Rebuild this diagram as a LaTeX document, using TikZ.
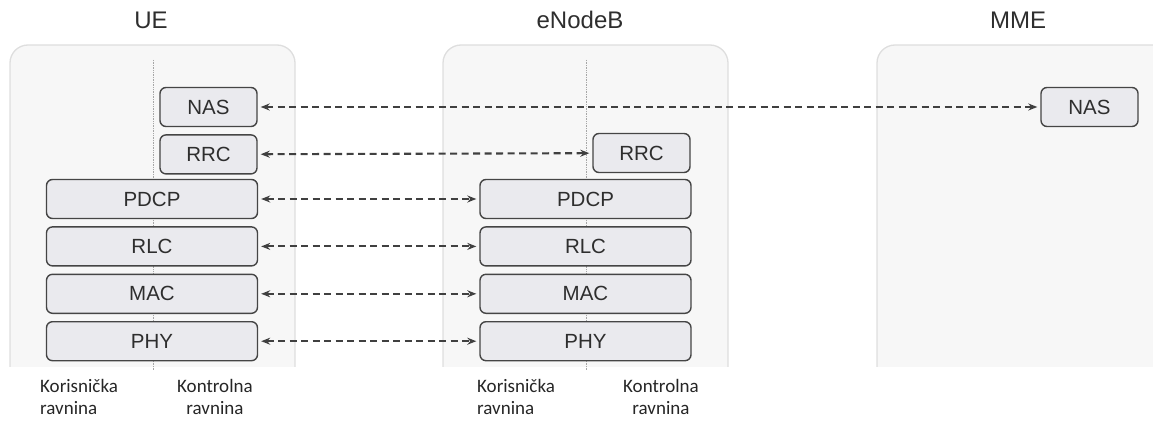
\documentclass[tikz,border=0pt]{standalone}
\usepackage{fontspec}
\setmainfont{Liberation Sans}
\newfontfamily\labelfont{Carlito}
\usetikzlibrary{arrows.meta, positioning}

\definecolor{panelfill}{HTML}{F7F7F7}
\definecolor{panelline}{HTML}{DEDEDE}
\definecolor{boxfill}{HTML}{EAEAEE}
\definecolor{boxline}{HTML}{454545}
\definecolor{txt}{HTML}{2E2E2E}

\begin{document}
\begin{tikzpicture}[
        x=1pt, y=-1pt,
        node distance=7pt,
        panel/.style={draw=panelline, fill=panelfill, line width=1.3pt, rounded corners=18pt},
        split/.style={draw=black!35, densely dotted, line width=0.7pt},
        layer/.style={draw=boxline, fill=boxfill, line width=1.4pt, rounded corners=6pt,
                      minimum height=39pt, inner sep=0pt, text=txt,
                      font=\fontsize{20.5}{24}\selectfont},
        small/.style={layer, minimum width=97pt},
        wide/.style={layer, minimum width=211pt},
        title/.style={text=txt, font=\fontsize{24}{28}\selectfont},
        plane/.style={text=black!85, font=\labelfont\fontsize{19}{22.5}\selectfont, inner sep=0pt},
        peer/.style={{Stealth[length=9pt,width=7pt]}-{Stealth[length=9pt,width=7pt]},
                     draw=black!75, line width=2.1pt, dash pattern=on 7pt off 4.5pt,
                     shorten <=3pt, shorten >=3pt}
    ]
        \useasboundingbox (0,0) rectangle (1153,425);

        % panels, cut off at the bottom
        \begin{scope}
            \clip (0,0) rectangle (1153,366);
            \draw[panel] (10,45) rectangle (295,420);
            \draw[panel] (443,45) rectangle (728,420);
            \draw[panel] (877,45) rectangle (1180,420);
        \end{scope}
        \draw[split] (153,60) -- (153,370);
        \draw[split] (586,60) -- (586,370);

        \node[title] (ue) at (151,20) {UE};
        \node[title] (enb) at (580,20) {eNodeB};
        \node[title] (mme) at (1018,20) {MME};

        % UE stack
        \node[small] (uenas) at (208.5,107) {NAS};
        \node[small, below=of uenas] (uerrc) {RRC};
        \node[wide] (uepdcp) at (152,199) {PDCP};
        \node[wide, below=of uepdcp] (uerlc) {RLC};
        \node[wide, below=of uerlc] (uemac) {MAC};
        \node[wide, below=of uemac] (uephy) {PHY};

        % eNodeB stack
        \node[small] (enbrrc) at (641.5,153) {RRC};
        \node[wide] (enbpdcp) at (585.5,199) {PDCP};
        \node[wide, below=of enbpdcp] (enbrlc) {RLC};
        \node[wide, below=of enbrlc] (enbmac) {MAC};
        \node[wide, below=of enbmac] (enbphy) {PHY};

        % MME
        \node[small] (mmenas) at (1089.5,107) {NAS};

        \draw[peer] (uenas) -- (mmenas);
        \draw[peer] (uerrc) -- (enbrrc);
        \draw[peer] (uepdcp) -- (enbpdcp);
        \draw[peer] (uerlc) -- (enbrlc);
        \draw[peer] (uemac) -- (enbmac);
        \draw[peer] (uephy) -- (enbphy);

        % planes
        \node[plane, align=left, anchor=north west] (ueuser) at (40,379) {Korisnička\\ravnina};
        \node[plane, align=center, anchor=north west] (uectrl) at (177,379) {Kontrolna\\ravnina};
        \node[plane, align=left, anchor=north west] (enbuser) at (477,379) {Korisnička\\ravnina};
        \node[plane, align=center, anchor=north west] (enbctrl) at (623,379) {Kontrolna\\ravnina};
    \end{tikzpicture}
\end{document}
